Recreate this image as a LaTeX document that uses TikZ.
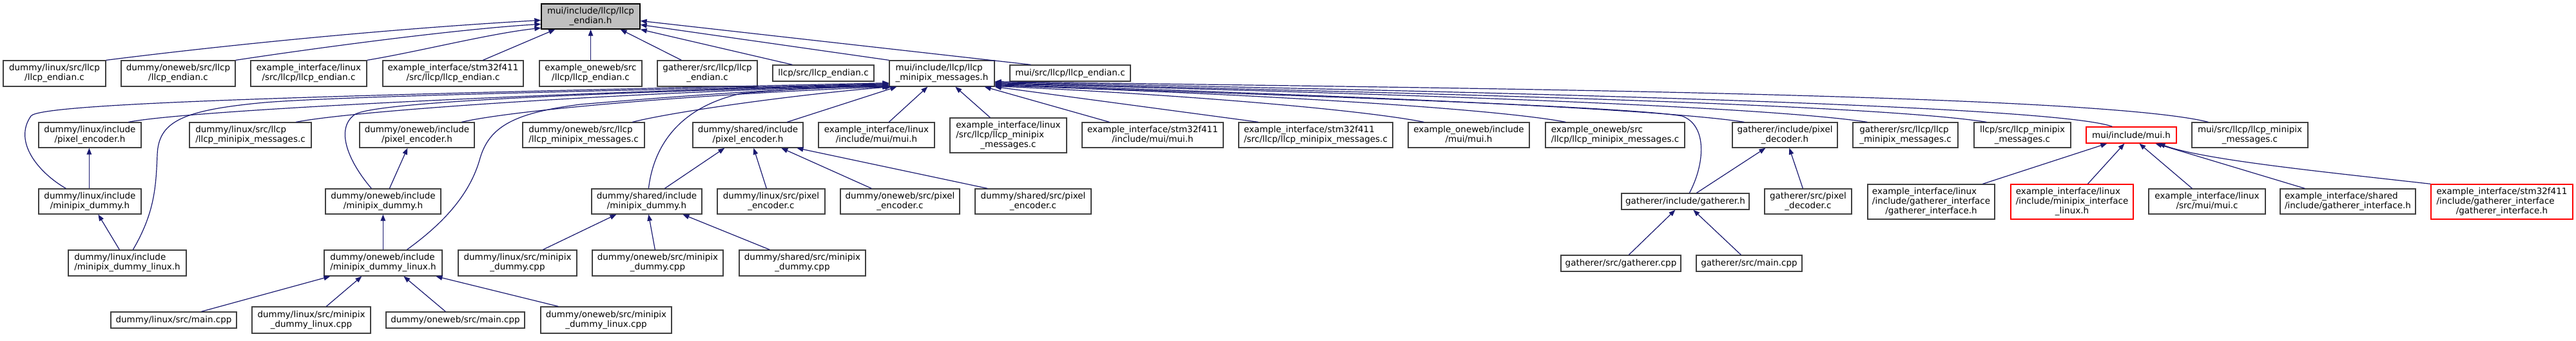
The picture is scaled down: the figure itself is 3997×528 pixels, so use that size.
\documentclass[tikz,border=0pt]{standalone}
\usepackage{fontspec}
\setmainfont{DejaVu Sans}
\usetikzlibrary{arrows.meta,calc}
\definecolor{edgeblue}{HTML}{191970}
\definecolor{boxgray}{HTML}{404040}
\definecolor{rootfill}{HTML}{BFBFBF}
\newcommand\twol[2]{\begin{tabular}{@{}l@{}}#1\\\multicolumn{1}{@{}c@{}}{#2}\end{tabular}}
\newcommand\threel[3]{\begin{tabular}{@{}l@{}}#1\\#2\\\multicolumn{1}{@{}c@{}}{#3}\end{tabular}}
\newcommand\nd[7][]{\node[box,#1,minimum width={#4-#3},minimum height={#6-#5}] (#2) at ({(#3+#4)/2},{(#5+#6)/2}) {#7};}
\begin{document}
\begin{tikzpicture}[x=1pt,y=-1pt,
  box/.style={draw=boxgray,line width=1.3pt,fill=white,inner sep=0pt,text=black,
    font=\fontsize{13.5}{15}\selectfont},
  rootbox/.style={fill=rootfill,draw=black},
  redbox/.style={draw=red},
  dep/.style={draw=edgeblue,line width=1.2pt,-{Triangle[length=10pt,width=7.5pt,fill=edgeblue]}}]
\useasboundingbox[fill=white] (0,0) rectangle (3997,528);
% row 0
\nd[rootbox]{R}{840}{993}{6}{45}{\twol{mui/include/llcp/llcp}{\_endian.h}}
% row 1
\nd{A1}{5}{164}{94}{134}{\twol{dummy/linux/src/llcp}{/llcp\_endian.c}}
\nd{A2}{188}{365}{94}{134}{\twol{dummy/oneweb/src/llcp}{/llcp\_endian.c}}
\nd{A3}{389}{569}{94}{134}{\twol{example\_interface/linux}{/src/llcp/llcp\_endian.c}}
\nd{A4}{594}{812}{94}{134}{\twol{example\_interface/stm32f411}{/src/llcp/llcp\_endian.c}}
\nd{A5}{837}{996}{94}{134}{\twol{example\_oneweb/src}{/llcp/llcp\_endian.c}}
\nd{A6}{1020}{1175}{94}{134}{\twol{gatherer/src/llcp/llcp}{\_endian.c}}
\nd{A7}{1199}{1356}{101}{126}{llcp/src/llcp\_endian.c}
\nd{M}{1380}{1543}{94}{134}{\twol{mui/include/llcp/llcp}{\_minipix\_messages.h}}
\nd{A9}{1567}{1754}{101}{126}{mui/src/llcp/llcp\_endian.c}
% row 2
\nd{B1}{60}{219}{190}{229}{\twol{dummy/linux/include}{/pixel\_encoder.h}}
\nd{B2}{294}{483}{190}{229}{\twol{dummy/linux/src/llcp}{/llcp\_minipix\_messages.c}}
\nd{B3}{558}{736}{190}{229}{\twol{dummy/oneweb/include}{/pixel\_encoder.h}}
\nd{B4}{811}{1000}{190}{229}{\twol{dummy/oneweb/src/llcp}{/llcp\_minipix\_messages.c}}
\nd{B5}{1075}{1246}{190}{229}{\twol{dummy/shared/include}{/pixel\_encoder.h}}
\nd{B6}{1270}{1450}{190}{229}{\twol{example\_interface/linux}{/include/mui/mui.h}}
\nd{B7}{1474}{1655}{183}{237}{\threel{example\_interface/linux}{/src/llcp/llcp\_minipix}{\_messages.c}}
\nd{B8}{1679}{1898}{190}{229}{\twol{example\_interface/stm32f411}{/include/mui/mui.h}}
\nd{B9}{1922}{2161}{190}{229}{\twol{example\_interface/stm32f411}{/src/llcp/llcp\_minipix\_messages.c}}
\nd{B10}{2185}{2373}{190}{229}{\twol{example\_oneweb/include}{/mui/mui.h}}
\nd{B11}{2398}{2614}{190}{229}{\twol{example\_oneweb/src}{/llcp/llcp\_minipix\_messages.c}}
\nd{B12}{2688}{2851}{190}{229}{\twol{gatherer/include/pixel}{\_decoder.h}}
\nd{B13}{2875}{3038}{190}{229}{\twol{gatherer/src/llcp/llcp}{\_minipix\_messages.c}}
\nd{B14}{3063}{3213}{190}{229}{\twol{llcp/src/llcp\_minipix}{\_messages.c}}
\nd[redbox]{B15}{3237}{3377}{197}{222}{mui/include/mui.h}
\nd{B16}{3401}{3581}{190}{229}{\twol{mui/src/llcp/llcp\_minipix}{\_messages.c}}
% row 3
\nd{C1}{60}{219}{293}{332}{\twol{dummy/linux/include}{/minipix\_dummy.h}}
\nd{C2}{505}{684}{293}{332}{\twol{dummy/oneweb/include}{/minipix\_dummy.h}}
\nd{C3}{918}{1089}{293}{332}{\twol{dummy/shared/include}{/minipix\_dummy.h}}
\nd{C4}{1113}{1280}{293}{332}{\twol{dummy/linux/src/pixel}{\_encoder.c}}
\nd{C5}{1304}{1489}{293}{332}{\twol{dummy/oneweb/src/pixel}{\_encoder.c}}
\nd{C6}{1513}{1693}{293}{332}{\twol{dummy/shared/src/pixel}{\_encoder.c}}
\nd{C7}{2516}{2714}{300}{325}{gatherer/include/gatherer.h}
\nd{C8}{2738}{2873}{293}{332}{\twol{gatherer/src/pixel}{\_decoder.c}}
\nd{C9}{2898}{3095}{286}{340}{\threel{example\_interface/linux}{/include/gatherer\_interface}{/gatherer\_interface.h}}
\nd[redbox]{C10}{3120}{3310}{286}{340}{\threel{example\_interface/linux}{/include/minipix\_interface}{\_linux.h}}
\nd{C11}{3334}{3515}{293}{332}{\twol{example\_interface/linux}{/src/mui/mui.c}}
\nd{C12}{3538}{3748}{293}{332}{\twol{example\_interface/shared}{/include/gatherer\_interface.h}}
\nd[redbox]{C13}{3772}{3992}{286}{340}{\threel{example\_interface/stm32f411}{/include/gatherer\_interface}{/gatherer\_interface.h}}
% row 4
\nd{D1}{106}{289}{388}{428}{\twol{dummy/linux/include}{/minipix\_dummy\_linux.h}}
\nd{D2}{503}{686}{388}{428}{\twol{dummy/oneweb/include}{/minipix\_dummy\_linux.h}}
\nd{D3}{711}{895}{388}{428}{\twol{dummy/linux/src/minipix}{\_dummy.cpp}}
\nd{D4}{919}{1122}{388}{428}{\twol{dummy/oneweb/src/minipix}{\_dummy.cpp}}
\nd{D5}{1147}{1343}{388}{428}{\twol{dummy/shared/src/minipix}{\_dummy.cpp}}
\nd{D6}{2422}{2608}{396}{421}{gatherer/src/gatherer.cpp}
\nd{D7}{2632}{2796}{396}{421}{gatherer/src/main.cpp}
% row 5
\nd{E1}{172}{367}{484}{509}{dummy/linux/src/main.cpp}
\nd{E2}{391}{575}{476}{517}{\twol{dummy/linux/src/minipix}{\_dummy\_linux.cpp}}
\nd{E3}{599}{814}{484}{509}{dummy/oneweb/src/main.cpp}
\nd{E4}{839}{1042}{476}{517}{\twol{dummy/oneweb/src/minipix}{\_dummy\_linux.cpp}}

% ---- edges to root
\draw[dep] (A1.north east) .. controls (350,70) and (600,45) .. ($(R.north west)+(0,26)$);
\draw[dep] (A2.north east) .. controls (480,76) and (700,46) .. ($(R.north west)+(0,32)$);
\draw[dep] (A3.north east) .. controls (650,80) and (760,52) .. ($(R.north west)+(0,38)$);
\draw[dep] ($(A4.north west)+(156,0)$) -- ($(R.south west)+(22,0)$);
\draw[dep] (A5.north) -- (R.south);
\draw[dep] ($(A6.north west)+(38,0)$) -- ($(R.south east)+(-31,0)$);
\draw[dep] ($(A7.north west)+(31,0)$) -- (R.south east);
\draw[dep] (M.north west) -- ($(R.north east)+(0,33)$);
\draw[dep] ($(A9.north west)+(33,0)$) -- ($(R.north east)+(0,27)$);

% ---- edges to mui/include/llcp/llcp_minipix_messages.h (left group)
\draw[dep] ($(C1.north west)+(43,0)$) .. controls (60,268) and (20,220) .. (48,180)
  .. controls (62,160) and (500,148) .. ($(M.south west)+(0,-6)$);
\draw[dep] ($(D1.north west)+(101,0)$) .. controls (240,330) and (242,290) .. (244,240)
  .. controls (246,190) and (280,172) .. (400,160)
  .. controls (520,148) and (1100,138) .. ($(M.south west)+(0,-5)$);
\draw[dep] ($(B1.north west)+(140,0)$) .. controls (300,170) and (900,142) .. ($(M.south west)+(0,-4)$);
\draw[dep] ($(C2.north west)+(72,0)$) .. controls (540,250) and (520,200) .. (550,178)
  .. controls (580,156) and (1000,142) .. ($(M.south west)+(0,-3)$);
\draw[dep] ($(B2.north west)+(166,0)$) .. controls (560,170) and (1000,142) .. ($(M.south west)+(0,-2)$);
\draw[dep] ($(D2.north west)+(129,0)$) .. controls (690,345) and (730,300) .. (745,245)
  .. controls (760,195) and (800,175) .. (900,162)
  .. controls (1100,145) and (1250,136) .. ($(M.south west)+(0,-1)$);
\draw[dep] ($(B3.north west)+(159,0)$) .. controls (800,170) and (1100,145) .. (M.south west);
\draw[dep] ($(C3.north west)+(89,0)$) .. controls (1015,220) and (1060,165) .. (1150,145)
  .. controls (1250,136) and (1330,134) .. ($(M.south west)+(2,0)$);
\draw[dep] ($(B4.north west)+(171,0)$) .. controls (1050,172) and (1250,145) .. ($(M.south west)+(4,0)$);
\draw[dep] ($(B5.north west)+(147,0)$) -- ($(M.south west)+(12,0)$);
\draw[dep] ($(B6.north west)+(110,0)$) -- ($(M.south west)+(60,0)$);
\draw[dep] ($(B7.north west)+(63,0)$) -- ($(M.south west)+(103,0)$);
\draw[dep] ($(B8.north west)+(43,0)$) -- ($(M.south east)+(-16,0)$);
% right group
\draw[dep] ($(B9.north west)+(31,0)$) -- (M.south east);
\draw[dep] ($(B10.north west)+(25,0)$) .. controls (2100,168) and (1800,145) .. ($(M.south east)+(0,-1)$);
\draw[dep] ($(B11.north west)+(32,0)$) .. controls (2300,165) and (1850,142) .. ($(M.south east)+(0,-2)$);
\draw[dep] ($(C7.north west)+(106,0)$) .. controls (2645,255) and (2650,195) .. (2610,180)
  .. controls (2500,162) and (1800,142) .. ($(M.south east)+(0,-3)$);
\draw[dep] ($(B12.north west)+(19,0)$) .. controls (2550,165) and (1900,142) .. ($(M.south east)+(0,-4)$);
\draw[dep] ($(B13.north west)+(23,0)$) .. controls (2700,160) and (1950,140) .. ($(M.south east)+(0,-5)$);
\draw[dep] ($(B14.north west)+(20,0)$) .. controls (2880,158) and (2000,140) .. ($(M.south east)+(0,-6)$);
\draw[dep] ($(B15.north west)+(41,0)$) .. controls (3180,160) and (2100,138) .. ($(M.south east)+(0,-7)$);
\draw[dep] ($(B16.north west)+(26,0)$) .. controls (3250,145) and (2200,136) .. ($(M.south east)+(0,-8)$);

% ---- lower edges
\draw[dep] ($(C1.north west)+(79,0)$) -- ($(B1.south west)+(79,0)$);
\draw[dep] ($(D1.north west)+(80,0)$) -- ($(C1.south west)+(93,0)$);
\draw[dep] ($(C2.north west)+(100,0)$) -- ($(B3.south west)+(75,0)$);
\draw[dep] ($(D2.north west)+(92,0)$) -- ($(C2.south west)+(90,0)$);
\draw[dep] ($(E1.north west)+(141,0)$) -- ($(D2.south west)+(10,0)$);
\draw[dep] ($(E2.north west)+(116,0)$) -- ($(D2.south west)+(59,0)$);
\draw[dep] ($(E3.north west)+(93,0)$) -- ($(D2.south west)+(124,0)$);
\draw[dep] ($(E4.north west)+(28,0)$) -- ($(D2.south west)+(174,0)$);
\draw[dep] ($(C3.north west)+(114,0)$) -- ($(B5.south west)+(50,0)$);
\draw[dep] ($(C4.north west)+(77,0)$) -- ($(B5.south west)+(95,0)$);
\draw[dep] ($(C5.north west)+(49,0)$) -- ($(B5.south west)+(138,0)$);
\draw[dep] ($(C6.north west)+(20,0)$) -- ($(B5.south west)+(162,0)$);
\draw[dep] ($(D3.north west)+(132,0)$) -- ($(C3.south west)+(39,0)$);
\draw[dep] ($(D4.north west)+(98,0)$) -- ($(C3.south west)+(89,0)$);
\draw[dep] ($(D5.north west)+(48,0)$) -- ($(C3.south west)+(142,0)$);
\draw[dep] ($(C7.north west)+(117,0)$) -- ($(B12.south west)+(52,0)$);
\draw[dep] ($(C8.north west)+(60,0)$) -- ($(B12.south west)+(89,0)$);
\draw[dep] ($(D6.north west)+(106,0)$) -- ($(C7.south west)+(84,0)$);
\draw[dep] ($(D7.north west)+(70,0)$) -- ($(C7.south west)+(112,0)$);
\draw[dep] ($(C9.north west)+(179,0)$) -- ($(B15.south west)+(33,0)$);
\draw[dep] ($(C10.north west)+(120,0)$) -- ($(B15.south west)+(60,0)$);
\draw[dep] ($(C11.north west)+(68,0)$) -- ($(B15.south west)+(83,0)$);
\draw[dep] ($(C12.north west)+(39,0)$) -- ($(B15.south west)+(108,0)$);
\draw[dep] (C13.north west) .. controls (3600,266) and (3420,248) .. ($(B15.south west)+(113,0)$);
\end{tikzpicture}
\end{document}
